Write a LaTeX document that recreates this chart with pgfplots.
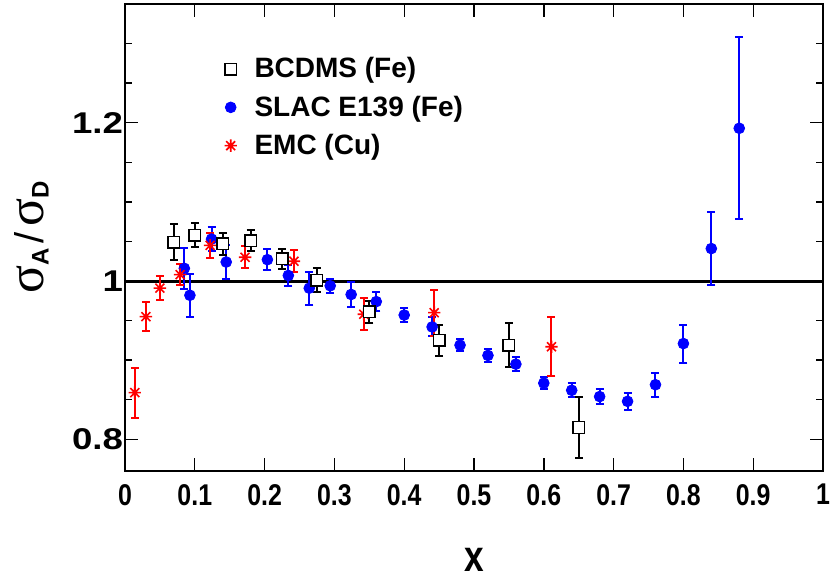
\documentclass[border=0pt]{standalone}
\usepackage{graphicx}
\usepackage{fontspec}
\setmainfont{Liberation Sans}
\newfontfamily\grfont{Liberation Serif}
\usepackage{pgfplots}
\pgfplotsset{compat=1.18}
\usepackage{pgfplotstable}

\pgfdeclareplotmark{ast8}{%
  \pgfpathmoveto{\pgfqpoint{-\pgfplotmarksize}{0pt}}\pgfpathlineto{\pgfqpoint{\pgfplotmarksize}{0pt}}%
  \pgfpathmoveto{\pgfqpoint{0pt}{-\pgfplotmarksize}}\pgfpathlineto{\pgfqpoint{0pt}{\pgfplotmarksize}}%
  \pgfpathmoveto{\pgfqpoint{-0.72\pgfplotmarksize}{-0.72\pgfplotmarksize}}\pgfpathlineto{\pgfqpoint{0.72\pgfplotmarksize}{0.72\pgfplotmarksize}}%
  \pgfpathmoveto{\pgfqpoint{-0.72\pgfplotmarksize}{0.72\pgfplotmarksize}}\pgfpathlineto{\pgfqpoint{0.72\pgfplotmarksize}{-0.72\pgfplotmarksize}}%
  \pgfusepathqstroke}

\pgfplotstableread{
x y e
0.07 1.049 0.023
0.10 1.058 0.015
0.14 1.047 0.014
0.18 1.051 0.013
0.225 1.028 0.013
0.275 1.001 0.015
0.35 0.961 0.014
0.45 0.925 0.020
0.55 0.919 0.028
0.65 0.815 0.038
}\bcdms

\pgfplotstableread{
x y e
0.085 1.016 0.026
0.093 0.982 0.027
0.124 1.053 0.015
0.145 1.024 0.022
0.204 1.027 0.013
0.234 1.007 0.013
0.264 0.991 0.021
0.294 0.994 0.009
0.324 0.983 0.016
0.36 0.974 0.012
0.40 0.957 0.009
0.44 0.942 0.012
0.48 0.919 0.008
0.52 0.906 0.008
0.56 0.895 0.0085
0.60 0.871 0.008
0.64 0.862 0.009
0.68 0.854 0.0097
0.72 0.848 0.011
0.76 0.869 0.015
0.80 0.921 0.024
0.84 1.041 0.046
0.88 1.193 0.115
}\slac

\pgfplotstableread{
x y e
0.014 0.859 0.0315
0.030 0.955 0.018
0.050 0.991 0.015
0.079 1.008 0.013
0.122 1.045 0.016
0.172 1.030 0.014
0.242 1.025 0.014
0.342 0.958 0.020
0.443 0.960 0.029
0.611 0.917 0.037
}\emc

\begin{document}
\begin{tikzpicture}
\begin{axis}[
  scale only axis, width=349pt, height=233.5pt,
  xmin=0, xmax=1, ymin=0.76, ymax=1.35,
  xtick={0,0.1,0.2,0.3,0.4,0.5,0.6,0.7,0.8,0.9,1},
  ytick={0.8,1,1.2},
  minor ytick={0.85,0.9,0.95,1.05,1.1,1.15,1.25,1.3},
  tick align=inside, major tick length=6.5pt, minor tick length=3.5pt,
  axis line style={line width=0.9pt},
  every tick/.style={black, line width=0.7pt},
  /pgf/number format/assume math mode=true,
  tick label style={font=\bfseries\fontsize{15}{15}\selectfont},
  xticklabel={\scalebox{0.83}[1]{\pgfmathprintnumber{\tick}}},
  yticklabel={\scalebox{1.22}[1]{\pgfmathprintnumber{\tick}}},
  xticklabel style={yshift=-3pt},
  yticklabel style={xshift=2.5pt},
  xlabel={\scalebox{0.8}[1]{\bfseries\fontsize{22}{22}\selectfont x}},
  xlabel style={at={(axis description cs:0.5,-0.19)}, anchor=center},
  ylabel={{\grfont\fontsize{26}{26}\selectfont σ}\raisebox{-0.5ex}{\bfseries\fontsize{12}{12}\selectfont A}\;{\fontsize{20}{20}\selectfont/}\;{\grfont\fontsize{26}{26}\selectfont σ}\raisebox{-0.5ex}{\bfseries\fontsize{12}{12}\selectfont D}},
  ylabel style={at={(axis description cs:-0.134,0.5)}, anchor=center, rotate=0},
  legend style={at={(axis description cs:0.142,0.895)}, anchor=north west, draw=none, fill=none,
    font=\bfseries\fontsize{14}{16}\selectfont, row sep=3.5pt, inner sep=0pt},
  legend cell align=left,
  legend image code/.code={\draw[#1] plot coordinates {(0pt,0pt)}; \path (9.5pt,0pt);},
  clip=false,
]
\addlegendimage{only marks, mark=square*, mark size=2.9pt, mark options={fill=white, draw=black, line width=0.7pt}}
\addlegendentry{BCDMS (Fe)}
\addlegendimage{only marks, mark=*, mark size=2.7pt, color=blue}
\addlegendentry{SLAC E139 (Fe)}
\addlegendimage{only marks, mark=ast8, mark size=3.1pt, color=red, line width=0.8pt}
\addlegendentry{EMC (Cu)}

\addplot[black, line width=1.5pt, forget plot] coordinates {(0,1) (1,1)};

\addplot[only marks, color=blue, mark=*, mark size=2.7pt, forget plot,
  error bars/.cd, y dir=both, y explicit,
  error bar style={line width=1pt, blue},
  error mark options={rotate=90, mark size=2pt, line width=1pt, blue}]
  table[x=x, y=y, y error=e] {\slac};

\addplot[only marks, color=red, mark=ast8, mark size=3.1pt, line width=0.8pt, forget plot,
  error bars/.cd, y dir=both, y explicit,
  error bar style={line width=1pt, red},
  error mark options={rotate=90, mark size=2pt, line width=1pt, red}]
  table[x=x, y=y, y error=e] {\emc};

\addplot[only marks, color=black, mark=square*, mark size=2.9pt,
  mark options={fill=white, draw=black, line width=0.7pt}, forget plot,
  error bars/.cd, y dir=both, y explicit,
  error bar style={line width=1pt, black},
  error mark options={rotate=90, mark size=2pt, line width=1pt, black}]
  table[x=x, y=y, y error=e] {\bcdms};
\end{axis}
\pgfresetboundingbox
\path[use as bounding box] ([shift={(-62.5pt,-55pt)}]current axis.south west) rectangle ([shift={(3.5pt,2pt)}]current axis.north east);
\end{tikzpicture}
\end{document}
